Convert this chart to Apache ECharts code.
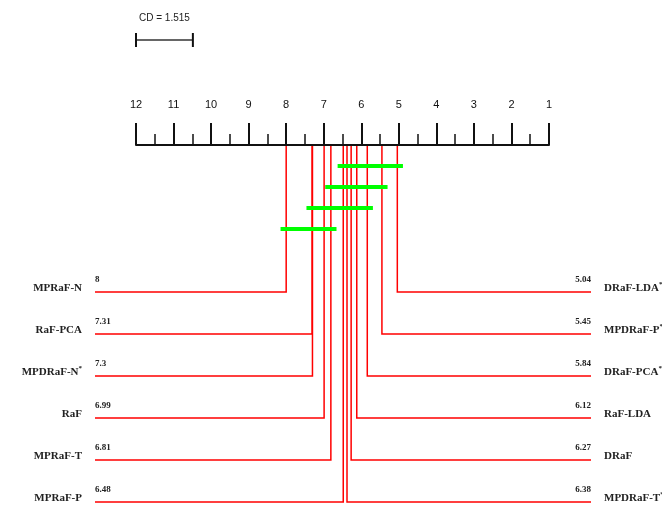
<!DOCTYPE html>
<html><head><meta charset="utf-8">
<script src="https://cdn.jsdelivr.net/npm/echarts@6/dist/echarts.min.js"></script>
<style>html,body{margin:0;padding:0;background:#fff}#c{width:662px;height:506px}</style>
</head><body><div id="c"></div>
<script>
// ---- data ----
const rankTickLabels = ['1','2','3','4','5','6','7','8','9','10','11','12'];
const criticalDifference = 1.515;
const leftNames = ['MPRaF-N','RaF-PCA','MPDRaF-N*','RaF','MPRaF-T','MPRaF-P'];
const leftRanks = [8, 7.31, 7.3, 6.99, 6.81, 6.48];
const rightNames = ['DRaF-LDA*','MPDRaF-P*','DRaF-PCA*','RaF-LDA','DRaF','MPDRaF-T*'];
const rightRanks = [5.04, 5.45, 5.84, 6.12, 6.27, 6.38];
const cliqueWorst = [6.48, 6.81, 7.31, 8];
const cliqueBest = [5.04, 5.45, 5.84, 6.81];

// ---- layout/style helpers ----
const RED = '#ff0000', GREEN = '#00ff00';
const serif = '"Liberation Serif","Times New Roman",serif';
const sans = '"Liberation Sans",Arial,Helvetica,sans-serif';
const firstRowLevel = 7, rowStep = 2;
const richName = {
  s: {fontSize: 7, fontFamily: serif, fontWeight: 'bold', verticalAlign: 'top', padding: [0,0,8,0], fill: '#222'}
};
function nameText(n){ return n.endsWith('*') ? n.slice(0,-1) + '{s|*}' : n; }

function methodRender(side){
  const names = side === 'left' ? leftNames : rightNames;
  const ranks = side === 'left' ? leftRanks : rightRanks;
  return function(params, api){
    const i = params.dataIndex;
    const rank = ranks[i];
    const level = firstRowLevel + rowStep * i;
    const top = api.coord([rank, 0]);
    const row = api.coord([rank, level]);
    const cs = params.coordSys;
    const endX = side === 'left' ? cs.x - 41 : cs.x + cs.width + 42;
    const nameX = side === 'left' ? cs.x - 54 : cs.x + cs.width + 55;
    const valStr = String(rank);
    return {
      type: 'group',
      children: [
        {type: 'polyline', shape: {points: [[top[0], top[1] + 1], [row[0], row[1]], [endX, row[1]]]},
          style: {stroke: RED, lineWidth: 1.5, fill: null}},
        {type: 'text', x: endX, y: row[1] - 12,
          style: {text: valStr, fontSize: 9, fontWeight: 'bold', fontFamily: serif, fill: '#222',
            align: side === 'left' ? 'left' : 'right', verticalAlign: 'middle'}},
        {type: 'text', x: nameX, y: row[1] - 4,
          style: {text: nameText(names[i]), rich: richName, fontSize: 11, fontWeight: 'bold', fontFamily: serif, fill: '#222',
            align: side === 'left' ? 'right' : 'left', verticalAlign: 'middle'}}
      ]
    };
  };
}

const option = {
  animation: false,
  backgroundColor: '#fff',
  grid: {left: 136, right: 113, top: 145, bottom: 4},
  xAxis: {
    type: 'value', position: 'top', min: 1, max: 12, interval: 1, inverse: true,
    axisLine: {show: true, lineStyle: {color: '#111', width: 2}},
    axisTick: {show: true, length: 22, lineStyle: {color: '#111', width: 2}},
    minorTick: {show: true, splitNumber: 2, length: 11, lineStyle: {color: '#111', width: 1.5}},
    splitLine: {show: false}, minorSplitLine: {show: false},
    axisLabel: {margin: 35, fontSize: 11, fontFamily: sans, color: '#111',
      formatter: v => rankTickLabels[Math.round(v) - 1]}
  },
  yAxis: {type: 'value', min: 0, max: 17, inverse: true, show: false},
  series: [
    {type: 'custom', clip: false, data: leftRanks.map((r, i) => [r, i]), renderItem: methodRender('left')},
    {type: 'custom', clip: false, data: rightRanks.map((r, i) => [r, i]), renderItem: methodRender('right')},
    {type: 'custom', clip: false, data: cliqueWorst.map((w, i) => [w, cliqueBest[i]]),
      renderItem: function(params, api){
        const i = params.dataIndex;
        const a = api.coord([cliqueWorst[i] + 0.15, 1 + i]);
        const b = api.coord([cliqueBest[i] - 0.15, 1 + i]);
        return {type: 'line', shape: {x1: a[0], y1: a[1], x2: b[0], y2: b[1]},
          style: {stroke: GREEN, lineWidth: 4}};
      }},
    {type: 'custom', clip: false, data: [[12, criticalDifference]],
      renderItem: function(params, api){
        const a = api.coord([12, -5]);
        const b = api.coord([12 - criticalDifference, -5]);
        return {type: 'group', children: [
          {type: 'line', shape: {x1: a[0], y1: a[1], x2: b[0], y2: b[1]}, style: {stroke: '#333', lineWidth: 1.5}},
          {type: 'line', shape: {x1: a[0], y1: a[1] - 7, x2: a[0], y2: a[1] + 7}, style: {stroke: '#111', lineWidth: 2}},
          {type: 'line', shape: {x1: b[0], y1: b[1] - 7, x2: b[0], y2: b[1] + 7}, style: {stroke: '#111', lineWidth: 2}},
          {type: 'text', x: (a[0] + b[0]) / 2, y: a[1] - 22,
            style: {text: 'CD = ' + criticalDifference, fontSize: 10, fontFamily: sans, fill: '#222', align: 'center', verticalAlign: 'middle'}}
        ]};
      }}
  ]
};
const chart = echarts.init(document.getElementById('c'));
chart.setOption(option);
</script>
</body></html>
